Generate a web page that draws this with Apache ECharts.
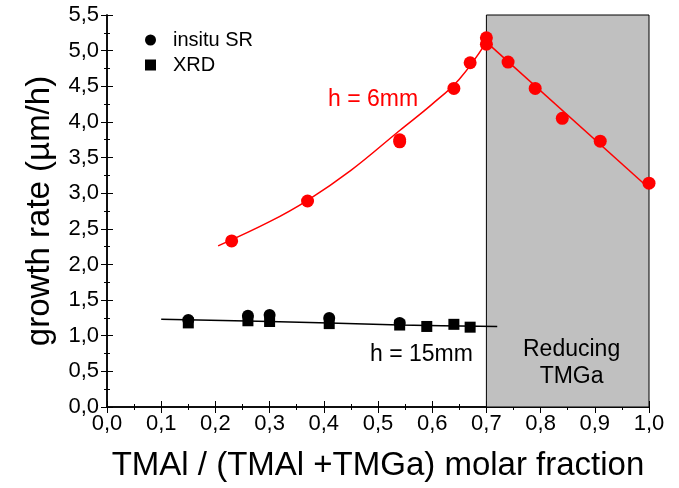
<!DOCTYPE html>
<html>
<head>
<meta charset="utf-8">
<script src="https://cdn.jsdelivr.net/npm/echarts@6/dist/echarts.min.js"></script>
<style>
  html, body { margin: 0; padding: 0; background: #fff; }
  #chart { width: 679px; height: 488px; }
</style>
</head>
<body>
<div id="chart"></div>
<script>
// measured points, h = 6mm (red)
var redX = [0.23, 0.37, 0.54, 0.54, 0.64, 0.67, 0.70, 0.70, 0.74, 0.79, 0.84, 0.91, 1.0]
var redY = [2.33, 2.89, 3.72, 3.75, 4.47, 4.83, 5.18, 5.09, 4.84, 4.47, 4.05, 3.73, 3.14]
// fitted curves
var redFitX = [0.205, 0.30, 0.37, 0.45, 0.54, 0.60, 0.65, 0.70]
var redFitY = [2.26, 2.60, 2.90, 3.32, 3.88, 4.25, 4.60, 5.12]
var redLineX = [0.70, 1.0]
var redLineY = [5.12, 3.07]
// h = 15mm (black)
var srX = [0.15, 0.26, 0.30, 0.41, 0.54]
var srY = [1.22, 1.28, 1.29, 1.25, 1.18]
var xrdX = [0.15, 0.26, 0.30, 0.41, 0.54, 0.59, 0.64, 0.67]
var xrdY = [1.18, 1.21, 1.20, 1.17, 1.15, 1.13, 1.16, 1.12]
var blackFitX = [0.10, 0.30, 0.41, 0.54, 0.72]
var blackFitY = [1.23, 1.20, 1.18, 1.15, 1.13]

function pairs (xs, ys) {
  return xs.map(function (x, i) { return [x, ys[i]] })
}
function comma (v) {
  return v.toFixed(1).replace('.', ',')
}

var font = 'Liberation Sans, Arial, sans-serif'
var tickStyle = { inside: true, length: 6, lineStyle: { color: '#000' } }
var minorStyle = { show: true, splitNumber: 2, length: 3, lineStyle: { color: '#000' } }
var frameLine = { show: true, lineStyle: { color: '#000', width: 1.5 } }

var chart = echarts.init(document.getElementById('chart'))
chart.setOption({
  animation: false,
  textStyle: { fontFamily: font },
  grid: { left: 107, right: 30, top: 15, bottom: 81 },
  legend: {
    left: 140,
    top: 25,
    orient: 'vertical',
    itemGap: 5,
    itemWidth: 11,
    itemHeight: 11,
    textStyle: { fontSize: 20, lineHeight: 20, color: '#000', fontFamily: font, padding: [0, 0, 0, 12] },
    data: [
      { name: 'insitu SR', icon: 'circle' },
      { name: 'XRD', icon: 'rect' }
    ]
  },
  xAxis: [{
    type: 'value',
    min: 0,
    max: 1,
    interval: 0.1,
    name: 'TMAl / (TMAl +TMGa) molar fraction',
    nameLocation: 'middle',
    nameGap: 42,
    nameTextStyle: { fontSize: 33, color: '#000', fontFamily: font },
    axisLine: frameLine,
    axisTick: tickStyle,
    minorTick: minorStyle,
    axisLabel: { fontSize: 22, color: '#000', margin: 6, formatter: comma },
    splitLine: { show: false }
  }, {
    type: 'value',
    position: 'top',
    min: 0,
    max: 1,
    interval: 0.1,
    axisLine: frameLine,
    axisTick: tickStyle,
    minorTick: minorStyle,
    axisLabel: { show: false },
    splitLine: { show: false }
  }],
  yAxis: [{
    type: 'value',
    min: 0,
    max: 5.5,
    interval: 0.5,
    name: 'growth rate (\u00b5m/h)',
    nameLocation: 'middle',
    nameGap: 51,
    nameTextStyle: { fontSize: 33, color: '#000', fontFamily: font },
    axisLine: frameLine,
    axisTick: tickStyle,
    minorTick: minorStyle,
    axisLabel: { fontSize: 22, color: '#000', margin: 8, formatter: comma },
    splitLine: { show: false }
  }, {
    type: 'value',
    position: 'right',
    min: 0,
    max: 5.5,
    interval: 0.5,
    axisLine: frameLine,
    axisTick: tickStyle,
    minorTick: minorStyle,
    axisLabel: { show: false },
    splitLine: { show: false }
  }],
  graphic: [
    { type: 'text', left: 328, top: 88, z: 100,
      style: { text: 'h = 6mm', fill: '#ff0000', font: '23px ' + font } },
    { type: 'text', left: 370, top: 343, z: 100,
      style: { text: 'h = 15mm', fill: '#000', font: '23px ' + font } },
    { type: 'text', left: 523, top: 336, z: 100,
      style: { text: 'Reducing\nTMGa', fill: '#000', font: '23px ' + font, textAlign: 'center', lineHeight: 27 } }
  ],
  series: [
    {
      name: 'area',
      type: 'line',
      data: [],
      z: 0,
      markArea: {
        silent: true,
        itemStyle: { color: '#c0c0c0', borderColor: '#000', borderWidth: 1 },
        data: [[{ xAxis: 0.7, yAxis: 0 }, { xAxis: 1.0, yAxis: 5.5 }]]
      }
    },
    {
      name: 'fit6', type: 'line', smooth: 0.4, showSymbol: false, z: 3,
      lineStyle: { color: '#ff0000', width: 1.5 },
      data: pairs(redFitX, redFitY)
    },
    {
      name: 'line6', type: 'line', showSymbol: false, z: 3,
      lineStyle: { color: '#ff0000', width: 1.5 },
      data: pairs(redLineX, redLineY)
    },
    {
      name: 'fit15', type: 'line', smooth: 0.3, showSymbol: false, z: 3,
      lineStyle: { color: '#000', width: 1.5 },
      data: pairs(blackFitX, blackFitY)
    },
    {
      name: 'h6', type: 'scatter', symbol: 'circle', symbolSize: 13, z: 4,
      itemStyle: { color: '#ff0000', opacity: 1 },
      data: pairs(redX, redY)
    },
    {
      name: 'XRD', type: 'scatter', symbol: 'rect', symbolSize: 11, z: 4,
      itemStyle: { color: '#000', opacity: 1 },
      data: pairs(xrdX, xrdY)
    },
    {
      name: 'insitu SR', type: 'scatter', symbol: 'circle', symbolSize: 12, z: 4,
      itemStyle: { color: '#000', opacity: 1 },
      data: pairs(srX, srY)
    }
  ]
})
</script>
</body>
</html>
